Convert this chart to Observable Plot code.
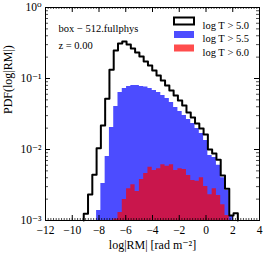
<!DOCTYPE html>
<html>
<head>
<meta charset="utf-8">
<script src="https://cdn.jsdelivr.net/npm/d3@7"></script>
<script src="https://cdn.jsdelivr.net/npm/@observablehq/plot@0.6"></script>
<style>
  html, body { margin: 0; padding: 0; background: white; }
</style>
</head>
<body>
<div id="chart"></div>
<script>
// ---- data ----
const binStart = -9.14;   // left edge of first bin, log|RM|
const binWidth = 0.32;    // bin width in log|RM|
// PDF per bin (0 = empty bin)
const pdfT50 = [0.00124, 0.00232, 0.0044, 0.0104, 0.0218, 0.0518, 0.133, 0.248, 0.311, 0.332,
                0.301, 0.265, 0.232, 0.204, 0.174, 0.152, 0.130, 0.110, 0.0937, 0.0797,
                0.0678, 0.0576, 0.0490, 0.0417, 0.0332, 0.0282, 0.0232, 0.0198, 0.0163, 0.0100,
                0.0088, 0.0072, 0.0043, 0.0028, 0.00118, 0.00126];
const pdfT55 = [0, 0, 0, 0.00138, 0.00332, 0.0080, 0.0204, 0.0403, 0.0635, 0.0723,
                0.0771, 0.0797, 0.0797, 0.0771, 0.0757, 0.0723, 0.0678, 0.0635, 0.0576, 0.0523,
                0.0459, 0.0391, 0.0343, 0.0301, 0.0265, 0.0232, 0.0198, 0.0168, 0.0134, 0.0082,
                0.0077, 0.0060, 0.0040, 0.00265, 0.00114, 0];
const pdfT60 = [0, 0, 0, 0, 0, 0, 0, 0.00105, 0.0013, 0.00198,
                0.00279, 0.00318, 0.00256, 0.00378, 0.00459, 0.00564, 0.00506, 0.00535, 0.00609, 0.00582,
                0.00609, 0.00506, 0.00535, 0.00523, 0.0043, 0.00366, 0.00358, 0.00399, 0.00301, 0.0023,
                0.00279, 0.00225, 0.00166, 0.00118, 0, 0];
const seriesLabels = ["log T\u2005>\u20055.0", "log T\u2005>\u20055.5", "log T\u2005>\u20056.0"];
const xTicks = [-12, -10, -8, -6, -4, -2, 0, 2, 4];
const yTicks = [1e-3, 1e-2, 1e-1, 1];
const yTickLabels = ["10⁻³", "10⁻²", "10⁻¹", "10⁰"];
const annot = ["box − 512.fullphys", "z = 0.00"];
const xLabel = "log|RM| [rad m⁻²]";
const yLabel = "PDF(log|RM|)";

// ---- build step points ----
const yMin = 1e-3;
function stepPoints(vals, closeEnds) {
  const idx = vals.map((v, i) => v > 0 ? i : -1).filter(i => i >= 0);
  const first = idx[0], last = idx[idx.length - 1];
  const pts = [];
  if (closeEnds) pts.push({x: binStart + first * binWidth, y: yMin});
  for (let k = first; k <= last; k++) pts.push({x: binStart + k * binWidth, y: Math.max(vals[k], yMin)});
  pts.push({x: binStart + (last + 1) * binWidth, y: closeEnds ? yMin : vals[last]});
  return pts;
}
const blackPts = stepPoints(pdfT50, true);
const bluePts = stepPoints(pdfT55, false);
const redPts = stepPoints(pdfT60, false);

const W = 266, H = 266, mL = 45, mR = 7, mT = 7, mB = 46;
const fw = W - mL - mR, fh = H - mT - mB;
const xMinor = d3.range(-12, 4.001, 0.2).map(v => Math.round(v * 10) / 10);
const yMinor = [];
for (const d of [1e-3, 1e-2, 1e-1]) for (let m = 2; m <= 9; m++) yMinor.push(m * d);

const tickFmtX = d => d < 0 ? "−" + Math.abs(d) : String(d);

const chart = Plot.plot({
  width: W, height: H,
  marginLeft: mL, marginRight: mR, marginTop: mT, marginBottom: mB,
  x: {domain: [-12, 4]},
  y: {type: "log", domain: [1e-3, 1]},
  style: {fontFamily: "'Liberation Serif', 'DejaVu Serif', serif", fontSize: "12px", background: "white", color: "black"},
  marks: [
    Plot.areaY(bluePts, {x: "x", y1: yMin, y2: "y", curve: "step-after", fill: "#0000ff", fillOpacity: 0.7}),
    Plot.areaY(redPts, {x: "x", y1: yMin, y2: "y", curve: "step-after", fill: "#ff0000", fillOpacity: 0.7}),
    Plot.line(blackPts, {x: "x", y: "y", curve: "step-after", stroke: "black", strokeWidth: 2}),
    // inward ticks
    Plot.tickX(xTicks, {x: d => d, insetTop: fh - 5, stroke: "black"}),
    Plot.tickX(xTicks, {x: d => d, insetBottom: fh - 5, stroke: "black"}),
    Plot.tickX(xMinor, {x: d => d, insetTop: fh - 2, stroke: "black", strokeWidth: 0.7}),
    Plot.tickX(xMinor, {x: d => d, insetBottom: fh - 2, stroke: "black", strokeWidth: 0.7}),
    Plot.tickY(yTicks, {y: d => d, insetRight: fw - 5, stroke: "black"}),
    Plot.tickY(yTicks, {y: d => d, insetLeft: fw - 5, stroke: "black"}),
    Plot.tickY(yMinor, {y: d => d, insetRight: fw - 3, stroke: "black", strokeWidth: 0.7}),
    Plot.tickY(yMinor, {y: d => d, insetLeft: fw - 3, stroke: "black", strokeWidth: 0.7}),
    Plot.frame({stroke: "black", strokeWidth: 1}),
    Plot.axisX(xTicks, {anchor: "bottom", tickSize: 0, tickPadding: 5, tickFormat: tickFmtX, label: null, fontSize: 11.5}),
    Plot.axisY(yTicks, {anchor: "left", tickSize: 0, tickPadding: 4, tickFormat: (d) => yTickLabels[yTicks.indexOf(d)], label: null, fontSize: 11.5}),
    Plot.text([xLabel], {frameAnchor: "bottom", dy: 28, fontSize: 12, text: d => d}),
    Plot.text([yLabel], {frameAnchor: "left", dx: -37, rotate: -90, fontSize: 12, text: d => d}),
    Plot.text([annot[0]], {frameAnchor: "top-left", dx: 13, dy: 17, textAnchor: "start", fontSize: 10.5, text: d => d}),
    Plot.text([annot[1]], {frameAnchor: "top-left", dx: 13, dy: 34, textAnchor: "start", fontSize: 10.5, text: d => d}),
    ...seriesLabels.map((s, i) =>
      Plot.text([s], {frameAnchor: "top-left", dx: 157, dy: 14 + i * 13.5, textAnchor: "start", fontSize: 10.5, text: d => d}))
  ]
});

// legend patches
const svg = d3.select(chart);
const patchStyles = [
  {fill: "white", stroke: "black", sw: 2},
  {fill: "#4d4dff", stroke: "none", sw: 0},
  {fill: "#ff4d4d", stroke: "none", sw: 0}
];
patchStyles.forEach((s, i) => {
  svg.append("rect")
    .attr("x", 174).attr("y", 17.5 + i * 13.5)
    .attr("width", 20).attr("height", 7)
    .attr("fill", s.fill).attr("stroke", s.stroke).attr("stroke-width", s.sw);
});

document.getElementById("chart").appendChild(chart);
</script>
</body>
</html>
